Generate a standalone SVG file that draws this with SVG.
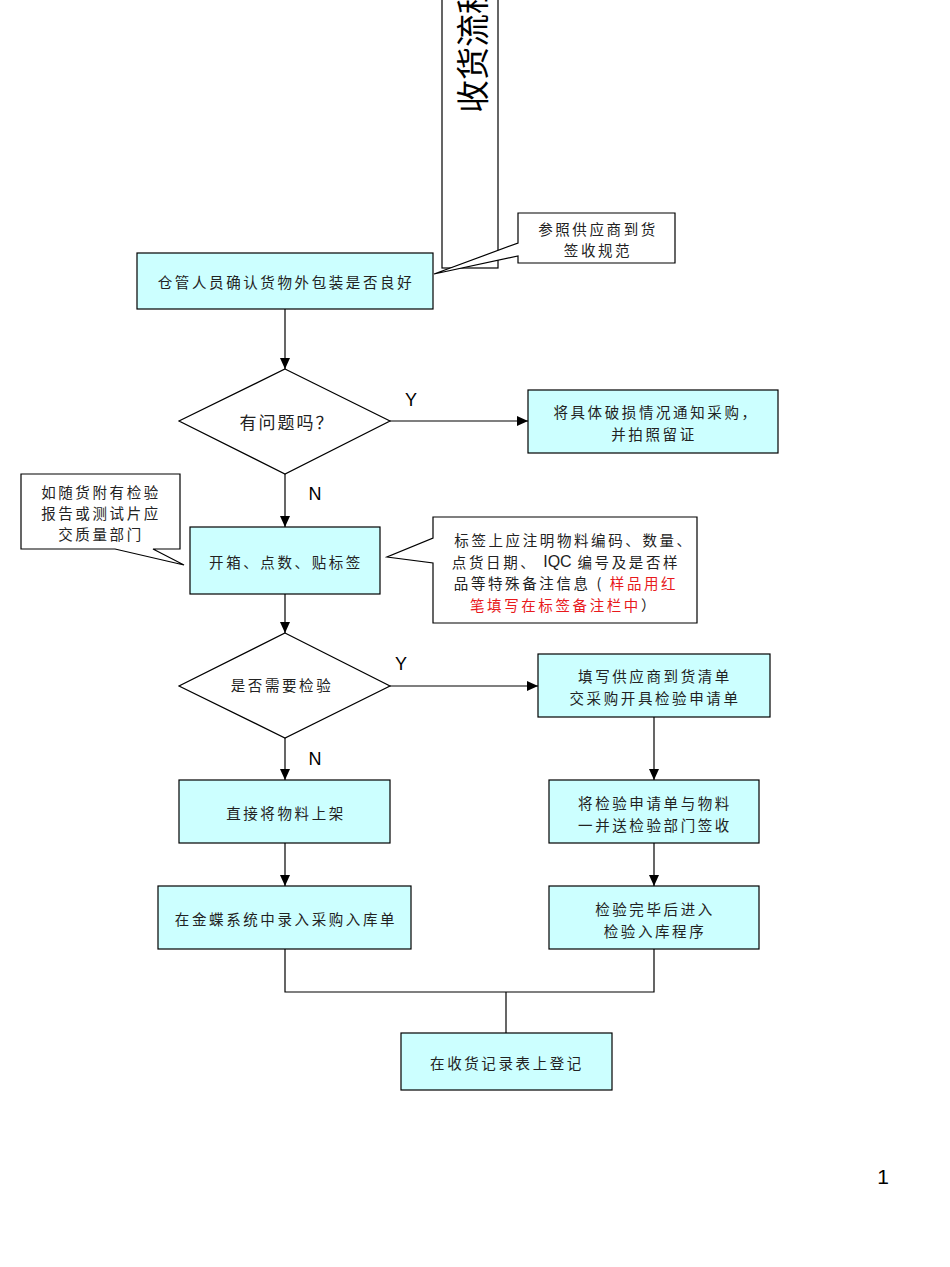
<svg xmlns="http://www.w3.org/2000/svg" width="950" height="1267" viewBox="0 0 950 1267">
<style>
.box{fill:#CCFFFF;stroke:#000;stroke-width:1.2}
.call{fill:#fff;stroke:#000;stroke-width:1.2}
.dia{fill:#fff;stroke:#000;stroke-width:1.2}
.t{font-family:"Noto Sans CJK SC","Liberation Sans",sans-serif;font-size:14.5px;letter-spacing:2.6px;fill:#222;text-anchor:middle;dominant-baseline:central}
.lat{font-family:"Liberation Sans",Arial,sans-serif;font-size:16px;letter-spacing:0}
.yn{font-family:"Liberation Sans",Arial,sans-serif;font-size:18px;fill:#000;text-anchor:middle;dominant-baseline:central}
.ln{fill:none;stroke:#000;stroke-width:1.2}
.red{fill:#E8191C}
</style>
<defs>
<marker id="ar" markerWidth="12" markerHeight="10" refX="11" refY="5" orient="auto" markerUnits="userSpaceOnUse">
<path d="M0,0 L11,5 L0,10 Z" fill="#000"/>
</marker>
</defs>
<rect width="950" height="1267" fill="#fff"/>
<g id="title">
<rect x="442" y="-2" width="56" height="270" fill="#fff" stroke="#000" stroke-width="1.2"/>
<text transform="translate(471,47) rotate(-90)" font-family="Noto Sans CJK SC,sans-serif" font-size="33" text-anchor="middle" dominant-baseline="central" fill="#000">收货流程</text>
</g>
<g id="connectors">
<line class="ln" x1="285" y1="309" x2="285" y2="369" marker-end="url(#ar)"/>
<line class="ln" x1="390" y1="421" x2="528" y2="421" marker-end="url(#ar)"/>
<line class="ln" x1="285" y1="474" x2="285" y2="527" marker-end="url(#ar)"/>
<line class="ln" x1="285" y1="594" x2="285" y2="633" marker-end="url(#ar)"/>
<line class="ln" x1="390" y1="686" x2="538" y2="686" marker-end="url(#ar)"/>
<line class="ln" x1="285" y1="738" x2="285" y2="780" marker-end="url(#ar)"/>
<line class="ln" x1="285" y1="843" x2="285" y2="886" marker-end="url(#ar)"/>
<line class="ln" x1="654" y1="717" x2="654" y2="780" marker-end="url(#ar)"/>
<line class="ln" x1="654" y1="843" x2="654" y2="886" marker-end="url(#ar)"/>
<polyline class="ln" points="285,949 285,992 654,992 654,949"/>
<line class="ln" x1="506" y1="992" x2="506" y2="1033"/>
<text class="yn" x="411" y="400">Y</text>
<text class="yn" x="315" y="494">N</text>
<text class="yn" x="401" y="664">Y</text>
<text class="yn" x="315" y="759">N</text>
</g>
<g id="note1">
<path class="call" d="M518,213 H675 V263 H518 V256 L434,274 L518,243 Z"/>
<text class="t" x="598" y="228">参照供应商到货</text>
<text class="t" x="598" y="249">签收规范</text>
</g>
<g id="n1">
<rect class="box" x="137" y="253" width="296" height="56"/>
<text class="t" x="286" y="281">仓管人员确认货物外包装是否良好</text>
</g>
<g id="d1">
<polygon class="dia" points="285,369 390,421 285,474 179,421"/>
<text class="t" x="287" y="421" style="font-size:17px;letter-spacing:2px">有问题吗？</text>
</g>
<g id="n2">
<rect class="box" x="528" y="390" width="250" height="63"/>
<text class="t" x="656" y="411">将具体破损情况通知采购，</text>
<text class="t" x="654" y="433">并拍照留证</text>
</g>
<g id="note2">
<path class="call" d="M21,474 H180 V549 H153 L184,565 L115,549 H21 Z"/>
<text class="t" x="101" y="491">如随货附有检验</text>
<text class="t" x="101" y="512">报告或测试片应</text>
<text class="t" x="101" y="533">交质量部门</text>
</g>
<g id="n3">
<rect class="box" x="190" y="527" width="190" height="67"/>
<text class="t" x="286" y="561">开箱、点数、贴标签</text>
</g>
<g id="note3">
<path class="call" d="M433,517 H697 V623 H433 V563 L387,557 L433,538 Z"/>
<text class="t" x="574" y="539">标签上应注明物料编码、数量、</text>
<text class="t" x="566" y="561">点货日期、 <tspan class="lat">IQC</tspan> 编号及是否样</text>
<text class="t" x="566" y="582">品等特殊备注信息 ( <tspan class="red">样品用红</tspan></text>
<text class="t" x="564" y="604"><tspan class="red">笔填写在标签备注栏中</tspan>）</text>
</g>
<g id="d2">
<polygon class="dia" points="285,633 390,686 285,738 179,686"/>
<text class="t" x="282" y="684">是否需要检验</text>
</g>
<g id="n4">
<rect class="box" x="538" y="654" width="232" height="63"/>
<text class="t" x="655" y="675">填写供应商到货清单</text>
<text class="t" x="655" y="697">交采购开具检验申请单</text>
</g>
<g id="n5">
<rect class="box" x="179" y="780" width="211" height="63"/>
<text class="t" x="286" y="812">直接将物料上架</text>
</g>
<g id="n6">
<rect class="box" x="549" y="780" width="210" height="63"/>
<text class="t" x="655" y="802">将检验申请单与物料</text>
<text class="t" x="655" y="824">一并送检验部门签收</text>
</g>
<g id="n7">
<rect class="box" x="158" y="886" width="253" height="63"/>
<text class="t" x="286" y="918">在金蝶系统中录入采购入库单</text>
</g>
<g id="n8">
<rect class="box" x="549" y="886" width="210" height="63"/>
<text class="t" x="655" y="908">检验完毕后进入</text>
<text class="t" x="655" y="930">检验入库程序</text>
</g>
<g id="n9">
<rect class="box" x="401" y="1033" width="211" height="57"/>
<text class="t" x="507" y="1062">在收货记录表上登记</text>
</g>
<text x="883" y="1176" font-family="Liberation Sans,Arial,sans-serif" font-size="21" text-anchor="middle" dominant-baseline="central" fill="#000">1</text>
</svg>
